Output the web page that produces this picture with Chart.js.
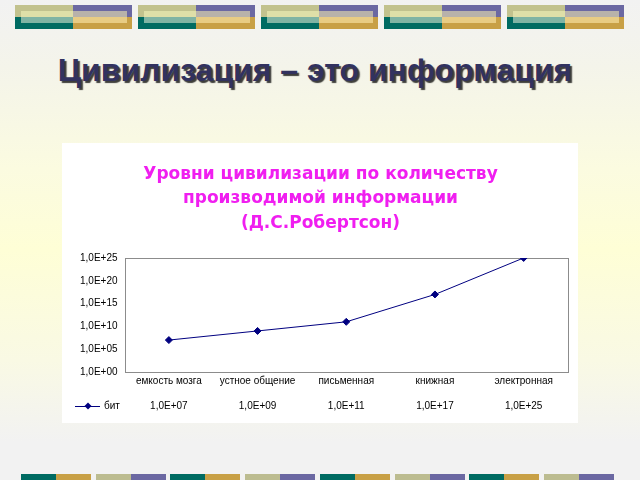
<!DOCTYPE html>
<html>
<head>
<meta charset="utf-8">
<script src="https://cdn.jsdelivr.net/npm/chart.js@4"></script>
<style>
  html, body { margin: 0; padding: 0; }
  body {
    width: 640px; height: 480px; position: relative; overflow: hidden;
    background: linear-gradient(to bottom, #f2f2f2 0%, #f4f4ea 14%, #fbfbe0 35%, #fefed6 52%, #f9f9e4 75%, #f2f2f2 92%);
    font-family: "Liberation Sans", Arial, sans-serif;
  }
  .topbar { position: absolute; top: 5px; width: 117px; height: 24px; }
  .topbar div { position: absolute; }
  .bottombar { position: absolute; top: 474px; width: 70px; height: 6px; }
  .bottombar div { position: absolute; top: 0; height: 6px; width: 35px; }
  h1 {
    position: absolute; left: 0; width: 630px; top: 52px; margin: 0;
    text-align: center; font-size: 32px; font-weight: bold; color: #32325f;
    text-shadow: 2px 2px 1px rgba(0,0,0,0.75);
  }
  #box { position: absolute; left: 62px; top: 143px; width: 516px; height: 280px; background: #fff; }
</style>
</head>
<body>
<div id="bars"></div>
<h1>Цивилизация – это информация</h1>
<div id="box"><canvas id="chart"></canvas></div>
<script>
const categories = ['емкость мозга', 'устное общение', 'письменная', 'книжная', 'электронная'];
const seriesName = 'бит';
const bits = [1e7, 1e9, 1e11, 1e17, 1e25];
const yTicks = [1e0, 1e5, 1e10, 1e15, 1e20, 1e25];
const chartTitle = ['Уровни цивилизации по количеству', 'производимой информации', '(Д.С.Робертсон)'];

// decorative slide strips
const bars = document.getElementById('bars');
for (let i = 0; i < 5; i++) {
    const b = document.createElement('div');
    b.className = 'topbar';
    b.style.left = (15 + i * 123) + 'px';
    b.innerHTML =
        '<div style="left:0;top:0;width:58px;height:12px;background:#c2c28e"></div>' +
        '<div style="left:58px;top:0;width:59px;height:12px;background:#6b68a2"></div>' +
        '<div style="left:0;top:12px;width:58px;height:12px;background:#006b62"></div>' +
        '<div style="left:58px;top:12px;width:59px;height:12px;background:#c8a046"></div>' +
        '<div style="left:6px;top:6px;width:52px;height:6px;background:#dfdfa8"></div>' +
        '<div style="left:58px;top:6px;width:54px;height:6px;background:#b8b2aa"></div>' +
        '<div style="left:6px;top:12px;width:52px;height:6px;background:#80b4a4"></div>' +
        '<div style="left:58px;top:12px;width:54px;height:6px;background:#e8cc84"></div>';
    bars.appendChild(b);
}
for (let i = 0; i < 8; i++) {
    const b = document.createElement('div');
    b.className = 'bottombar';
    b.style.left = Math.round(21 + i * 74.7) + 'px';
    const even = i % 2 === 0;
    b.innerHTML =
        '<div style="left:0;background:' + (even ? '#006b62' : '#bcbc90') + '"></div>' +
        '<div style="left:35px;background:' + (even ? '#c8a046' : '#6b68a2') + '"></div>';
    bars.appendChild(b);
}

function fmtExp(v) {
    const e = Math.round(Math.log10(v));
    return '1,0E+' + String(e).padStart(2, '0');
}

const plotFrame = {
    id: 'plotFrame',
    beforeDatasetsDraw(chart) {
        const a = chart.chartArea, ctx = chart.ctx;
        ctx.save();
        ctx.strokeStyle = '#8c8c8c';
        ctx.lineWidth = 1;
        ctx.strokeRect(Math.round(a.left) + 0.5, Math.round(a.top) + 0.5,
            Math.round(a.right - a.left), Math.round(a.bottom - a.top));
        ctx.restore();
    }
};

const tableKey = {
    id: 'tableKey',
    afterDraw(chart) {
        const s = chart.scales.x2, ctx = chart.ctx;
        const y = s.top + 10 + 6;
        const ds = chart.data.datasets[0];
        ctx.save();
        ctx.strokeStyle = ds.borderColor;
        ctx.lineWidth = 1;
        ctx.beginPath();
        ctx.moveTo(13, y + 0.5);
        ctx.lineTo(38, y + 0.5);
        ctx.stroke();
        ctx.fillStyle = ds.borderColor;
        ctx.beginPath();
        ctx.moveTo(26, y - 3.5);
        ctx.lineTo(29.5, y);
        ctx.lineTo(26, y + 3.5);
        ctx.lineTo(22.5, y);
        ctx.closePath();
        ctx.fill();
        ctx.fillStyle = '#000';
        ctx.font = '10px "Liberation Sans", Arial, sans-serif';
        ctx.textBaseline = 'middle';
        ctx.fillText(ds.label, 42, y);
        ctx.restore();
    }
};

const tickFont = { family: '"Liberation Sans", Arial, sans-serif', size: 10 };

new Chart(document.getElementById('chart'), {
    type: 'line',
    data: {
        labels: categories,
        datasets: [{
            label: seriesName,
            data: bits,
            borderColor: '#000080',
            backgroundColor: '#000080',
            borderWidth: 1,
            pointStyle: 'rectRot',
            pointRadius: 3.5,
            pointHoverRadius: 3.5,
            tension: 0
        }]
    },
    options: {
        responsive: true,
        maintainAspectRatio: false,
        animation: false,
        layout: { padding: { left: 11, right: 10, top: 4, bottom: 1 } },
        plugins: {
            legend: { display: false },
            tooltip: { enabled: false },
            title: {
                display: true,
                text: chartTitle,
                color: '#f01ef0',
                font: { family: '"DejaVu Sans", sans-serif', size: 17, weight: 'bold', lineHeight: 1.45 },
                padding: { top: 15, bottom: 22 }
            }
        },
        scales: {
            y: {
                type: 'logarithmic',
                min: 1,
                max: 1e25,
                afterBuildTicks(scale) {
                    scale.ticks = yTicks.map(v => ({ value: v }));
                },
                grid: { display: false, drawTicks: false },
                border: { display: false },
                ticks: {
                    color: '#000',
                    padding: 7,
                    font: tickFont,
                    callback: v => fmtExp(v)
                }
            },
            x: {
                offset: true,
                grid: { display: false, drawTicks: false },
                border: { display: false },
                ticks: {
                    color: '#000',
                    padding: 3,
                    maxRotation: 0,
                    autoSkip: false,
                    font: tickFont
                }
            },
            x2: {
                type: 'category',
                position: 'bottom',
                labels: bits.map(fmtExp),
                offset: true,
                grid: { display: false, drawTicks: false },
                border: { display: false },
                ticks: {
                    color: '#000',
                    padding: 10,
                    maxRotation: 0,
                    autoSkip: false,
                    font: tickFont
                }
            }
        }
    },
    plugins: [plotFrame, tableKey]
});
</script>
</body>
</html>
